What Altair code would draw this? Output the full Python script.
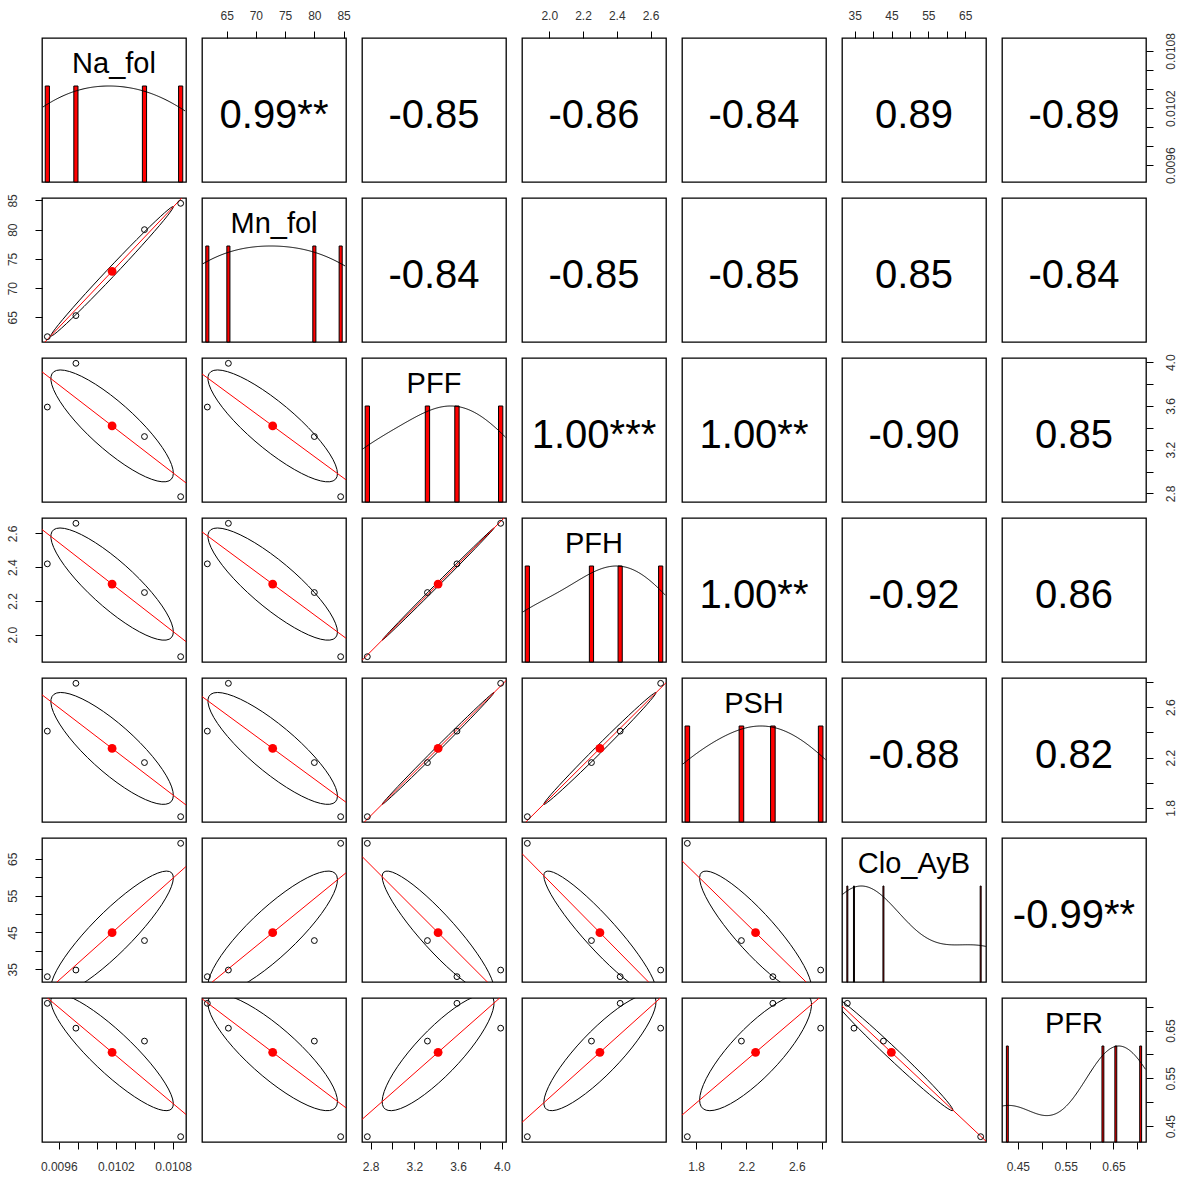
import json

import altair as alt
import numpy as np
import pandas as pd

# ---- data: four observations per variable -------------------------------
variables = ["Na_fol", "Mn_fol", "PFF", "PFH", "PSH", "Clo_AyB", "PFR"]

na_fol = [0.00948, 0.00978, 0.01050, 0.01088]
mn_fol = [61.7, 65.3, 80.0, 84.5]
pff = [3.59, 3.99, 3.32, 2.77]
pfh = [2.42, 2.66, 2.25, 1.87]
psh = [2.41, 2.79, 2.16, 1.73]
clo_ayb = [33.0, 34.8, 42.8, 69.2]
pfr = [0.707, 0.655, 0.628, 0.428]

# correlation texts of the upper triangle, row by row
cor_labels = [
    ["0.99**", "-0.85", "-0.86", "-0.84", "0.89", "-0.89"],
    ["-0.84", "-0.85", "-0.85", "0.85", "-0.84"],
    ["1.00***", "1.00**", "-0.90", "0.85"],
    ["1.00**", "-0.92", "0.86"],
    ["-0.88", "0.82"],
    ["-0.99**"],
]

# axis ticks and the subset of ticks that carry a label
tick_values = [
    [0.0096, 0.0098, 0.0100, 0.0102, 0.0104, 0.0106, 0.0108],
    [65, 70, 75, 80, 85],
    [2.8, 3.0, 3.2, 3.4, 3.6, 3.8, 4.0],
    [2.0, 2.2, 2.4, 2.6],
    [1.8, 2.0, 2.2, 2.4, 2.6, 2.8],
    [35, 40, 45, 50, 55, 60, 65],
    [0.45, 0.50, 0.55, 0.60, 0.65, 0.70],
]
tick_labels = [
    ["0.0096", "0.0102", "0.0108"],
    ["65", "70", "75", "80", "85"],
    ["2.8", "3.2", "3.6", "4.0"],
    ["2.0", "2.2", "2.4", "2.6"],
    ["1.8", "2.2", "2.6"],
    ["35", "45", "55", "65"],
    ["0.45", "0.55", "0.65"],
]
tick_formats = [".4f", "d", ".1f", ".1f", ".1f", "d", ".2f"]

data = [na_fol, mn_fol, pff, pfh, psh, clo_ayb, pfr]
N = len(variables)
W = H = 144
FONT = "Liberation Sans"


def domain(k):
    lo, hi = min(data[k]), max(data[k])
    r = hi - lo
    return [lo - 0.04 * r, hi + 0.04 * r]


def scale(k):
    return alt.Scale(domain=domain(k), nice=False, zero=False)


def make_axis(k, orient):
    shown = json.dumps(tick_labels[k])
    kw = dict(
        orient=orient,
        values=tick_values[k],
        format=tick_formats[k],
        labelExpr=f"indexof({shown}, datum.label) >= 0 ? datum.label : ''",
        domain=False,
        grid=False,
        ticks=True,
        tickSize=7,
        tickWidth=1,
        tickColor="black",
        labelFont=FONT,
        labelFontSize=12,
        labelColor="#333333",
        labelOverlap=False,
        labelFlush=False,
        labelPadding=12 if orient == "bottom" else 9,
        title=None,
    )
    if orient in ("left", "right"):
        kw.update(
            labelAngle=270,
            labelAlign="center",
            labelBaseline="bottom" if orient == "left" else "top",
            labelPadding=16 if orient == "left" else 12,
        )
    return alt.Axis(**kw)


def x_axis(i, j):
    if i == N - 1 and j % 2 == 0:
        return make_axis(j, "bottom")
    if i == 0 and j % 2 == 1:
        return make_axis(j, "top")
    return None


def y_axis(i, j):
    if j == 0 and i % 2 == 1:
        return make_axis(i, "left")
    if j == N - 1 and i % 2 == 0:
        return make_axis(i, "right")
    return None


def frame(i, j, with_y=True):
    """Invisible layer that carries the scales and axes of a cell."""
    df = pd.DataFrame({"x": data[j], "y": data[i]})
    enc = dict(x=alt.X("x:Q", scale=scale(j), axis=x_axis(i, j)))
    if with_y:
        enc["y"] = alt.Y("y:Q", scale=scale(i), axis=y_axis(i, j))
    return alt.Chart(df).mark_point(opacity=0).encode(**enc)


def lower(i, j):
    x = np.array(data[j], dtype=float)
    y = np.array(data[i], dtype=float)
    xm, ym = x.mean(), y.mean()
    xs, ys = x.std(ddof=1), y.std(ddof=1)
    r = np.corrcoef(x, y)[0, 1]

    # correlation ellipse (one standard deviation)
    ang = np.linspace(0, 2 * np.pi, 52)
    th = np.sign(r) / np.sqrt(2)
    shape = np.diag([np.sqrt(1 + r), np.sqrt(1 - r)]) @ np.array([[th, th], [-th, th]])
    e = np.column_stack([np.cos(ang), np.sin(ang)]) @ shape
    ell = pd.DataFrame({"x": e[:, 0] * xs + xm, "y": e[:, 1] * ys + ym, "o": np.arange(len(ang))})

    # least-squares line across the whole cell
    slope, icpt = np.polyfit(x, y, 1)
    xd = domain(j)
    reg = pd.DataFrame({"x": xd, "y": [icpt + slope * v for v in xd]})

    pts = pd.DataFrame({"x": x, "y": y})
    mean = pd.DataFrame({"x": [xm], "y": [ym]})

    ex = alt.X("x:Q", scale=scale(j), axis=x_axis(i, j))
    ey = alt.Y("y:Q", scale=scale(i), axis=y_axis(i, j))

    ell_l = alt.Chart(ell).mark_line(color="black", strokeWidth=1, clip=True).encode(
        x=ex, y=ey, order="o:Q")
    reg_l = alt.Chart(reg).mark_line(color="red", strokeWidth=1, clip=True).encode(x=ex, y=ey)
    pts_l = alt.Chart(pts).mark_point(
        shape="circle", filled=False, color="black", size=34, strokeWidth=1, opacity=1
    ).encode(x=ex, y=ey)
    mean_l = alt.Chart(mean).mark_circle(color="red", size=78, opacity=1).encode(x=ex, y=ey)

    return alt.layer(ell_l, reg_l, pts_l, mean_l).properties(width=W, height=H)


def upper(i, j):
    txt = cor_labels[i][j - i - 1]
    if "*" not in txt:
        txt = txt + "\u00a0"
    t = alt.Chart(pd.DataFrame({"t": [txt]})).mark_text(
        font=FONT, fontSize=40, color="black", align="center", baseline="middle"
    ).encode(text="t:N", x=alt.value(W / 2), y=alt.value(78))
    return alt.layer(frame(i, j), t).properties(width=W, height=H)


def diagonal(k):
    v = np.array(data[k], dtype=float)

    # one bar per distinct value, narrow width tied to the smallest gap
    vals, counts = np.unique(v, return_counts=True)
    half = np.min(np.diff(vals)) * (len(vals) - 1) / 41
    bins = pd.DataFrame({"lo": vals - half, "hi": vals + half, "h": counts / counts.max()})

    # kernel density (normal-reference bandwidth, adjust 1.2), scaled to a peak of 1
    q1, q3 = np.quantile(v, [0.25, 0.75])
    bw = 1.2 * 1.06 * min(v.std(ddof=1), (q3 - q1) / 1.34) * len(v) ** (-0.2)
    g = np.linspace(v.min() - 3 * bw, v.max() + 3 * bw, 512)
    dens = np.exp(-0.5 * ((g[:, None] - v[None, :]) / bw) ** 2).sum(axis=1)
    dens = dens / dens.max()
    dom = domain(k)
    dd = pd.DataFrame({"x": g, "d": dens})
    dd = dd[(dd["x"] >= dom[0]) & (dd["x"] <= dom[1])]

    hy = alt.Scale(domain=[0, 1.5], nice=False, zero=True)
    xa = x_axis(k, k)

    bars = alt.Chart(bins).mark_rect(fill="red", stroke="black", strokeWidth=1).encode(
        x=alt.X("lo:Q", scale=scale(k), axis=xa), x2="hi:Q",
        y=alt.Y("h:Q", scale=hy, axis=None), y2=alt.datum(0))
    dline = alt.Chart(dd).mark_line(color="black", strokeWidth=1, clip=True).encode(
        x=alt.X("x:Q", scale=scale(k), axis=xa),
        y=alt.Y("d:Q", scale=hy, axis=None))
    name = alt.Chart(pd.DataFrame({"t": [variables[k]]})).mark_text(
        font=FONT, fontSize=29, color="black", align="center", baseline="middle"
    ).encode(text="t:N", x=alt.value(W / 2), y=alt.value(26))

    if k == N - 1:
        base = frame(k, k, with_y=True)
        return alt.layer(base, bars, dline, name).properties(
            width=W, height=H).resolve_scale(y="independent")
    return alt.layer(bars, dline, name).properties(width=W, height=H)


cells = []
for i in range(N):
    for j in range(N):
        if i == j:
            cells.append(diagonal(i))
        elif i > j:
            cells.append(lower(i, j))
        else:
            cells.append(upper(i, j))

chart = (
    alt.concat(*cells, columns=N, spacing=16, bounds="flush")
    .properties(padding={"left": 5, "top": 8, "right": 5, "bottom": 5})
    .configure_view(stroke="black", strokeWidth=1.3)
)

chart.save("out.html", embed_options={"renderer": "svg", "actions": False})
